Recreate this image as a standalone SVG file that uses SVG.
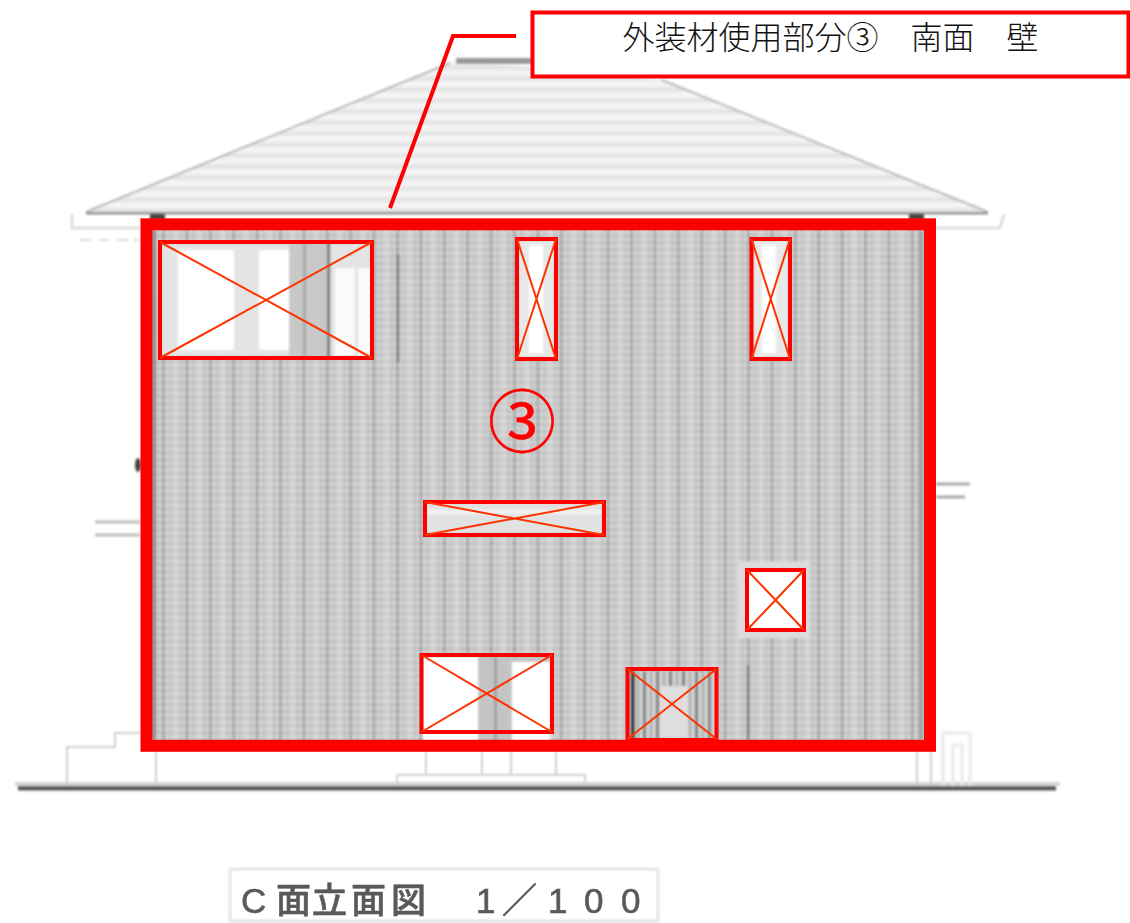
<svg xmlns="http://www.w3.org/2000/svg" width="1130" height="923" viewBox="0 0 1130 923">
<style>
text{font-family:"Noto Sans CJK JP","Liberation Serif",serif}
.w{fill:none;stroke:#f00;stroke-width:4}
.x{fill:none;stroke:#ff3300;stroke-width:2}
.faint{fill:none;stroke:#cfcfcf;stroke-width:2}
.pale{fill:none;stroke:#eaeaea;stroke-width:3}
</style>
<defs>
<pattern id="stripes" patternUnits="userSpaceOnUse" x="162" y="0" width="23.4" height="10">
<rect width="23.4" height="10" fill="#cdcdcd"/>
<rect x="0" width="3" height="10" fill="#a8a8a8"/>
<rect x="7" width="2" height="10" fill="#c2c2c2"/>
<rect x="12" width="4" height="10" fill="#d4d4d4"/>
<rect x="18" width="2" height="10" fill="#c0c0c0"/>
</pattern>
<pattern id="moire" patternUnits="userSpaceOnUse" width="10" height="7">
<rect y="0" width="10" height="2" fill="#fff" fill-opacity=".16"/>
<rect y="4" width="10" height="1.500" fill="#000" fill-opacity=".04"/>
</pattern>
<pattern id="bands" patternUnits="userSpaceOnUse" width="10" height="11">
<rect width="10" height="11" fill="#efefef"/>
<rect y="0" width="10" height="3" fill="#e2e2e2"/>
<rect y="6" width="10" height="2" fill="#f8f8f8"/>
</pattern>
<pattern id="doorbars" patternUnits="userSpaceOnUse" x="630" y="0" width="13" height="10">
<rect width="13" height="10" fill="#cfcfcf"/>
<rect width="3" height="10" fill="#808080"/>
<rect x="7" width="2" height="10" fill="#a8a8a8"/>
</pattern>
<filter id="soft" x="-5%" y="-5%" width="110%" height="110%"><feGaussianBlur stdDeviation="1"/></filter>
<filter id="softer" x="-5%" y="-20%" width="110%" height="140%"><feGaussianBlur stdDeviation="0.7"/></filter>
</defs>
<rect width="1130" height="923" fill="#fff"/>
<g id="building" filter="url(#soft)">
<polygon points="86,212 454,60 662,80 988,212" fill="url(#bands)"/>
<path d="M86,212 L450,63 M662,80 L988,212" fill="none" stroke="#b8b8b8" stroke-width="2"/>
<rect x="456" y="58" width="76" height="6" fill="#999"/>
<rect x="86" y="212" width="902" height="2.500" fill="#929292"/>
<path d="M72,214 V228 H140 M936,228 H1000 L1004,214" fill="none" stroke="#d8d8d8" stroke-width="2.500"/>
<path d="M80,240 H140" fill="none" stroke="#ddd" stroke-width="2" stroke-dasharray="12 6"/>
<rect x="150" y="214" width="15" height="6" fill="#444"/>
<rect x="909" y="214" width="15" height="6" fill="#444"/>
<rect x="150" y="226" width="776" height="516" fill="url(#stripes)"/>
<rect x="150" y="226" width="776" height="516" fill="url(#moire)"/>
<rect x="152" y="230" width="4" height="510" fill="#8f8f8f"/>
<rect x="918" y="230" width="6" height="510" fill="#a8a8a8"/>
<path d="M398,254V362M748,665V740" stroke="#7a7a7a" stroke-width="2.500" fill="none"/>
<rect x="162" y="244" width="208" height="112" fill="#e4e4e4"/>
<rect x="178" y="250" width="56" height="100" fill="#fff"/>
<rect x="259" y="250" width="30" height="100" fill="#fff"/>
<rect x="289" y="244" width="42" height="112" fill="#c8c8c8"/>
<rect x="303" y="244" width="3" height="112" fill="#a8a8a8"/>
<rect x="327" y="240" width="3" height="118" fill="#808080"/>
<rect x="335" y="268" width="36" height="88" fill="#fafafa"/>
<rect x="355" y="268" width="3" height="88" fill="#e0e0e0"/>
<rect x="519" y="241" width="35" height="116" fill="#e8e8e8"/>
<rect x="529" y="245" width="14" height="108" fill="#fff"/>
<rect x="754" y="241" width="34" height="116" fill="#e8e8e8"/>
<rect x="762" y="245" width="14" height="108" fill="#fff"/>
<rect x="426" y="503" width="176" height="30" fill="#e2e2e2"/>
<rect x="426" y="510" width="176" height="4" fill="#f2f2f2"/>
<rect x="738" y="562" width="72" height="76" fill="#dcdcdc"/>
<rect x="748" y="571" width="55" height="58" fill="#fff"/>
<rect x="423" y="657" width="128" height="84" fill="#c4c4c4"/>
<rect x="423" y="657" width="55" height="84" fill="#fff"/>
<rect x="512" y="662" width="38" height="79" fill="#fff"/>
<rect x="494" y="657" width="3" height="84" fill="#a0a0a0"/>
<rect x="629" y="671" width="86" height="68" fill="url(#doorbars)"/>
<rect x="631" y="671" width="4" height="68" fill="#444"/>
<rect x="660" y="686" width="28" height="52" fill="#dedede"/>
<rect x="15" y="782" width="1045" height="4" fill="#d4d4d4"/>
<rect x="18" y="786" width="1038" height="4.500" fill="#555"/>
<path d="M67,786V747H115V733H140M156,752V786M397,786V775H585V786M426,752V775M482,752V775M511,752V775M556,752V775M917,752V786M931,752V786" class="faint"/>
<path d="M943,786V733H970V786M953,786V745H962V786" class="pale"/>
<path d="M936,484H970M936,497H965" stroke="#a8a8a8" stroke-width="3" fill="none"/>
<path d="M95,522H140M95,535H140" stroke="#bdbdbd" stroke-width="3" fill="none"/>
<ellipse cx="138" cy="465" rx="3" ry="7" fill="#444"/>
</g>
<g id="scale-label">
<rect x="230" y="869" width="428" height="52" fill="none" stroke="#e0e0e0" stroke-width="2.500" filter="url(#soft)"/>
<text y="913" font-size="35" font-weight="500" stroke="#5a5a5a" stroke-width=".6" fill="#5a5a5a" filter="url(#softer)" x="241 276 312 351 391 440 476 502 548 584 621" style="font-family:'Liberation Sans','Noto Sans CJK JP',sans-serif">C面立面図　1／100</text>
</g>
<g id="wall-outline"><rect x="146.500" y="224.300" width="783.500" height="521.500" fill="none" stroke="#f00" stroke-width="12"/></g>
<g id="window-1"><rect class="w" x="160" y="242" width="212" height="116"/><path class="x" d="M160,242L372,358M372,242L160,358"/></g>
<g id="window-2"><rect class="w" x="517" y="239" width="39" height="120"/><path class="x" d="M517,239L556,359M556,239L517,359"/></g>
<g id="window-3"><rect class="w" x="751.500" y="239" width="38.500" height="120"/><path class="x" d="M751.500,239L790,359M790,239L751.500,359"/></g>
<g id="window-4"><rect class="w" x="425" y="502" width="179" height="33"/><path class="x" d="M425,502L604,535M604,502L425,535"/></g>
<g id="window-5"><rect class="w" x="747" y="570" width="57" height="60"/><path class="x" d="M747,570L804,630M804,570L747,630"/></g>
<g id="window-6"><rect class="w" x="421.500" y="655" width="130.500" height="77"/><path class="x" d="M421.500,655L552,732M552,655L421.500,732"/></g>
<g id="window-7"><rect class="w" x="627.500" y="669" width="89" height="71"/><path class="x" d="M627.500,669L716.500,739M716.500,669L627.500,739"/></g>
<g id="wall-mark"><text x="522" y="447" font-size="68" fill="#f00" stroke="#f00" stroke-width=".5" text-anchor="middle">③</text></g>
<g id="label"><rect x="532.500" y="12.500" width="596" height="64" fill="#fff" stroke="#f00" stroke-width="4"/>
<text x="622.500" y="49" font-size="32" fill="#111" font-weight="300">外装材使用部分③　南面　壁</text></g>
<g id="connectors"><path d="M516,36H453L390,208" fill="none" stroke="#f00" stroke-width="4"/></g>
</svg>
